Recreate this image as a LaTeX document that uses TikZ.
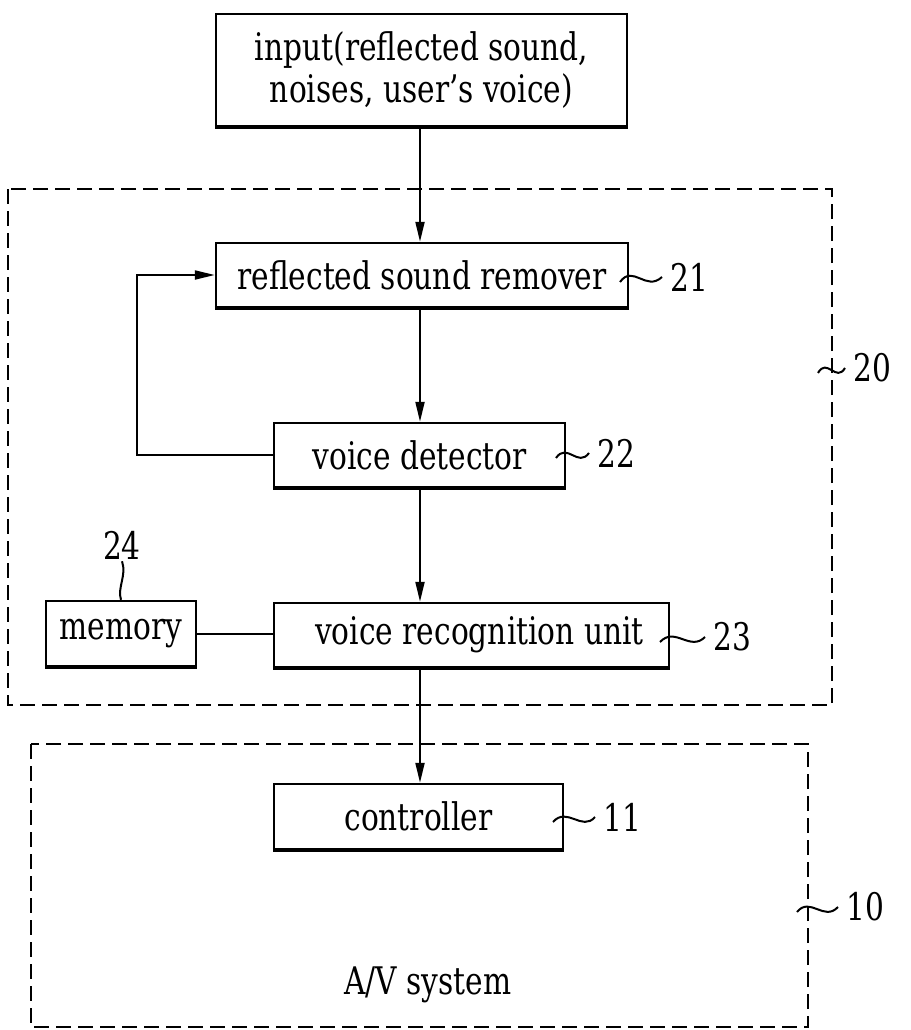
\documentclass[tikz,border=0pt]{standalone}
\usepackage{fontspec}
\setmainfont{DejaVu Serif}[FakeStretch=0.78]
\usetikzlibrary{arrows.meta}
\begin{document}
\begin{tikzpicture}[x=1pt,y=-1pt,
  every node/.style={font=\fontsize{38pt}{42pt}\selectfont},
  box/.style={draw, line width=2.4pt, inner sep=0pt, align=center,
    append after command={(\tikzlastnode.south west) edge[line width=3.6pt, line cap=butt] (\tikzlastnode.south east)}},
  conn/.style={line width=2pt},
  arr/.style={line width=2pt, -{Triangle[length=20pt,width=9pt]}},
  lead/.style={line width=2pt},
  lbl/.style={inner xsep=8pt, inner ysep=0pt, anchor=west},
  grp/.style={line width=1.6pt, dash pattern=on 15pt off 7pt},
]
\useasboundingbox (0,0) rectangle (910,1030);

% group frames
\draw[grp] (8,189) rectangle (832,705);
\draw[grp] (31,744) rectangle (808,1027);

% blocks
\node[box, minimum width=411pt, minimum height=112pt] (in) at (421.5,70)
  {input(reflected sound,\\noises, user’s voice)};
\node[box, minimum width=412pt, minimum height=64pt] (rsr) at (422,275) {reflected sound remover};
\node[box, minimum width=291pt, minimum height=64pt] (vd) at (419.5,455) {voice detector};
\node[box, minimum width=150pt, minimum height=65pt] (mem) at (121,633.5) {memory};
\node[box, minimum width=395pt, minimum height=64pt] (vru) at (471.5,635) {\hspace*{16pt}voice recognition unit};
\node[box, minimum width=289pt, minimum height=65pt] (ctl) at (418.5,816.5) {controller};
\node (av) at (428,985) {A/V system};

% reference numerals
\node[lbl] (l21) at (662,277) {21};
\node[lbl] (l22) at (589,453) {22};
\node[lbl] (l23) at (705,637) {23};
\node[lbl] (l11) at (595,817) {11};
\node[lbl] (l20) at (845,368) {20};
\node[lbl] (l10) at (838,907) {10};
\node[inner sep=2pt] (l24) at (122,545) {24};

% helper coordinates
\coordinate (ax) at (420,0);
\coordinate (fbx) at (137,0);
\coordinate (s21) at (620,282);
\coordinate (s22) at (556,458);
\coordinate (s23) at (660,642);
\coordinate (s11) at (553,822);
\coordinate (s20) at (818,373);
\coordinate (s10) at (797,912);

% connectors
\draw[arr] (ax |- in.south) -- (ax |- rsr.north);
\draw[arr] (ax |- rsr.south) -- (ax |- vd.north);
\draw[arr] (ax |- vd.south) -- (ax |- vru.north);
\draw[arr] (ax |- vru.south) -- (ax |- ctl.north);
\draw[arr] (vd.west) -- (vd.west -| fbx) |- (rsr.west);
\draw[conn] (mem.east) -- (mem.east -| vru.west);

% leaders
\draw[lead] (s21) .. controls (633,264) and (646,292) .. (l21.west);
\draw[lead] (s22) .. controls (567,442) and (578,468) .. (l22.west);
\draw[lead] (s23) .. controls (675,626) and (690,652) .. (l23.west);
\draw[lead] (s11) .. controls (567,806) and (582,832) .. (l11.west);
\draw[lead] (s20) .. controls (827,357) and (836,383) .. (l20.west);
\draw[lead] (s10) .. controls (810,896) and (824,922) .. (l10.west);
\draw[lead] (l24.south) .. controls (127,575) and (117,588) .. (mem.north);
\end{tikzpicture}
\end{document}
